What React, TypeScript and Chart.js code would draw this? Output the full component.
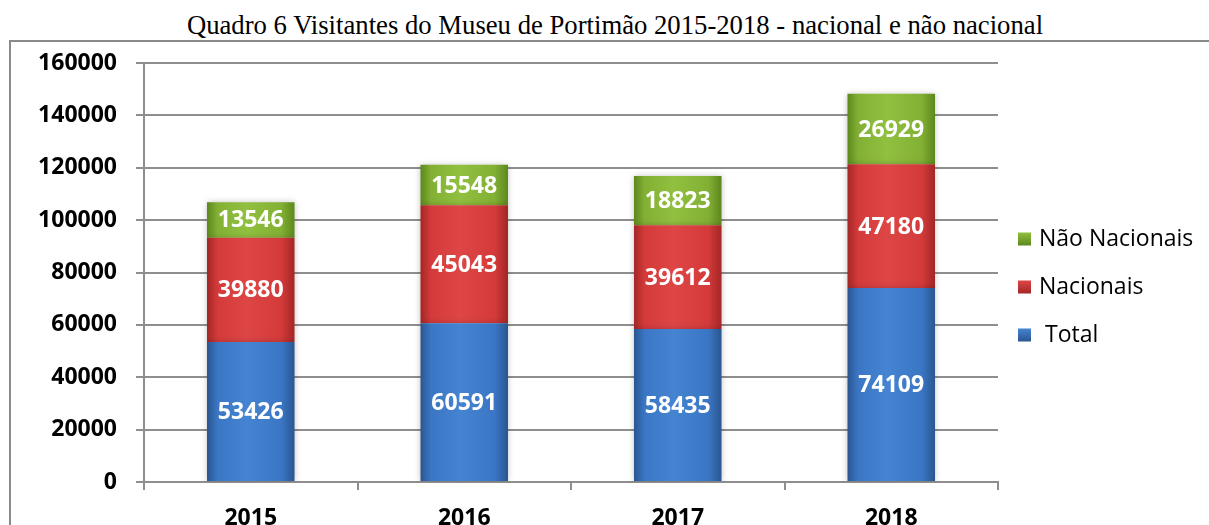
import React, { useEffect, useRef } from "react";
import { Chart, registerables } from "chart.js";

Chart.register(...registerables);

const titleText =
  "Quadro 6 Visitantes do Museu de Portimão 2015-2018 - nacional e não nacional";
const years = ["2015", "2016", "2017", "2018"];
const totalValues = [53426, 60591, 58435, 74109];
const nacionaisValues = [39880, 45043, 39612, 47180];
const naoNacionaisValues = [13546, 15548, 18823, 26929];
const seriesLabels = [" Total", "Nacionais", "Não Nacionais"];
const yMin = 0;
const yMax = 160000;
const yStep = 20000;

const BAR_PCT = 0.41;
const FONT = '"Open Sans", "DejaVu Sans", sans-serif';

const palettes = [
  { edge: "#2a5690", mid: "#3a76c4", light: "#4584d2" },
  { edge: "#a32626", mid: "#d43a3a", light: "#de4646" },
  { edge: "#5c881d", mid: "#82b034", light: "#91c040" },
];

function barFill(p: { edge: string; mid: string; light: string }) {
  return (ctx: any) => {
    const chart = ctx.chart;
    const xs = chart.scales && chart.scales.x;
    if (!chart.chartArea || !xs || ctx.dataIndex === undefined) return p.mid;
    const cx = xs.getPixelForValue(ctx.dataIndex);
    const w = (xs.width / years.length) * BAR_PCT;
    const g = chart.ctx.createLinearGradient(cx - w / 2, 0, cx + w / 2, 0);
    g.addColorStop(0, p.edge);
    g.addColorStop(0.12, p.mid);
    g.addColorStop(0.45, p.light);
    g.addColorStop(0.85, p.mid);
    g.addColorStop(1, p.edge);
    return g;
  };
}

const shadowPlugin = {
  id: "barShadow",
  beforeDatasetDraw(chart: any) {
    const c = chart.ctx;
    c.save();
    c.shadowColor = "rgba(0,0,0,0.22)";
    c.shadowBlur = 6;
  },
  afterDatasetDraw(chart: any) {
    chart.ctx.restore();
  },
};

const valueLabelPlugin = {
  id: "valueLabels",
  afterDatasetsDraw(chart: any) {
    const c = chart.ctx;
    c.save();
    c.font = `bold 23px ${FONT}`;
    c.fillStyle = "#ffffff";
    c.textAlign = "center";
    c.textBaseline = "middle";
    chart.data.datasets.forEach((ds: any, di: number) => {
      const meta = chart.getDatasetMeta(di);
      meta.data.forEach((el: any, i: number) => {
        const { x, y, base } = el.getProps(["x", "y", "base"], true);
        c.fillText(String(ds.data[i]), x, (y + base) / 2 + 1);
      });
    });
    c.restore();
  },
};

const legendPlugin = {
  id: "sideLegend",
  afterDraw(chart: any) {
    const c = chart.ctx;
    const area = chart.chartArea;
    const n = chart.data.datasets.length;
    const spacing = 48;
    const centerY = (area.top + area.bottom) / 2 + 14;
    const x0 = area.right + 20;
    c.save();
    c.font = `23px ${FONT}`;
    c.textBaseline = "middle";
    c.textAlign = "left";
    for (let k = 0; k < n; k++) {
      const di = n - 1 - k;
      const ds = chart.data.datasets[di];
      const p = palettes[di];
      const cy = centerY + (k - (n - 1) / 2) * spacing;
      const g = c.createLinearGradient(0, cy - 6, 0, cy + 7);
      g.addColorStop(0, p.light);
      g.addColorStop(1, p.edge);
      c.fillStyle = g;
      c.fillRect(x0, cy - 6, 13, 13);
      c.fillStyle = "#000000";
      c.fillText(ds.label, x0 + 21, cy + 1);
    }
    c.restore();
  },
};

export default function App() {
  const ref = useRef<HTMLCanvasElement | null>(null);

  useEffect(() => {
    if (!ref.current) return;
    const gridColor = "#8e8e8e";
    const chart = new Chart(ref.current, {
      type: "bar",
      data: {
        labels: years,
        datasets: [
          { label: seriesLabels[0], data: totalValues, backgroundColor: barFill(palettes[0]) },
          { label: seriesLabels[1], data: nacionaisValues, backgroundColor: barFill(palettes[1]) },
          { label: seriesLabels[2], data: naoNacionaisValues, backgroundColor: barFill(palettes[2]) },
        ],
      },
      options: {
        responsive: false,
        animation: false,
        layout: { padding: { left: 0, top: 63, right: 211, bottom: 0 } },
        datasets: {
          bar: { categoryPercentage: 1, barPercentage: BAR_PCT, borderWidth: 0 },
        },
        plugins: {
          legend: { display: false },
          title: { display: false },
          tooltip: { enabled: false },
        },
        scales: {
          x: {
            stacked: true,
            afterFit: (s: any) => {
              s.height = 43;
            },
            grid: {
              display: true,
              drawOnChartArea: false,
              drawTicks: true,
              tickLength: 8,
              color: gridColor,
              lineWidth: 2,
              offset: true,
            },
            border: { display: true, color: gridColor, width: 2 },
            ticks: {
              color: "#000000",
              font: { family: FONT, size: 23, weight: "bold" },
              padding: 15,
            },
          },
          y: {
            stacked: true,
            min: yMin,
            max: yMax,
            afterFit: (s: any) => {
              s.width = 144;
            },
            grid: {
              color: gridColor,
              lineWidth: 2,
              tickLength: 8,
              drawTicks: true,
            },
            border: { display: true, color: gridColor, width: 2 },
            ticks: {
              stepSize: yStep,
              color: "#000000",
              font: { family: FONT, size: 23, weight: "bold" },
              padding: 19,
              callback: (v: any) => String(v),
            },
          },
        },
      },
      plugins: [shadowPlugin, valueLabelPlugin, legendPlugin],
    } as any);
    return () => chart.destroy();
  }, []);

  return (
    <div
      style={{
        position: "fixed",
        left: 0,
        top: 0,
        width: 1209,
        height: 525,
        overflow: "hidden",
        background: "#ffffff",
      }}
    >
      <div
        style={{
          position: "absolute",
          left: 0,
          top: 12,
          width: 1230,
          textAlign: "center",
          fontFamily: '"Liberation Serif", "Times New Roman", serif',
          fontSize: 26.7,
          lineHeight: "27px",
          color: "#000000",
          whiteSpace: "nowrap",
        }}
      >
        {titleText}
      </div>
      <div
        style={{
          position: "absolute",
          left: 9,
          top: 40,
          width: 1300,
          height: 600,
          borderLeft: "2px solid #8a8a8a",
          borderTop: "2px solid #8a8a8a",
        }}
      />
      <canvas
        ref={ref}
        width={1209}
        height={525}
        style={{ position: "absolute", left: 0, top: 0, width: 1209, height: 525 }}
      />
    </div>
  );
}
